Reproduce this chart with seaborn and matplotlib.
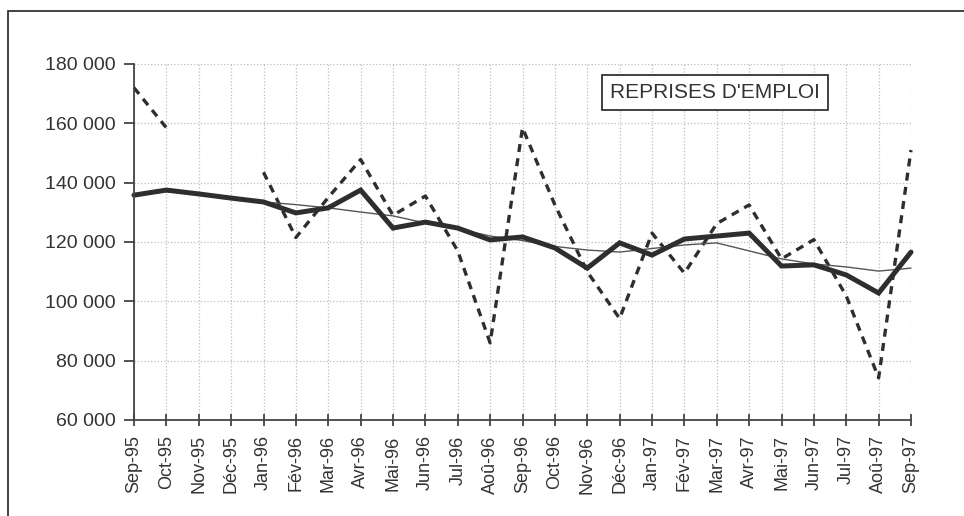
import numpy as np
import pandas as pd
import matplotlib.pyplot as plt
import seaborn as sns
from matplotlib.patches import Rectangle

# Mois (axe des x)
mois = ['Sep-95', 'Oct-95', 'Nov-95', 'Déc-95', 'Jan-96', 'Fév-96', 'Mar-96', 'Avr-96',
        'Mai-96', 'Jun-96', 'Jul-96', 'Aoû-96', 'Sep-96', 'Oct-96', 'Nov-96', 'Déc-96',
        'Jan-97', 'Fév-97', 'Mar-97', 'Avr-97', 'Mai-97', 'Jun-97', 'Jul-97', 'Aoû-97',
        'Sep-97']

# Données brutes (pointillés), manquantes en nov. et déc. 95
brut = [172000, 158500, np.nan, np.nan, 143500, 121500, 135000, 147800,
        129000, 135500, 117000, 86000, 158500, 132500, 110000, 94200,
        123000, 109500, 126200, 132500, 114300, 120800, 101800, 74200,
        151000]

# Données CVS (trait épais)
cvs = [135800, 137500, 136200, 134800, 133500, 129800, 131500, 137500,
       124700, 126700, 124700, 120700, 121700, 118000, 111200, 119700,
       115600, 121000, 122000, 123000, 111900, 112300, 108900, 102800,
       116600]

# Tendance (trait fin)
tendance = [135800, 137000, 136000, 134800, 133500, 132600, 131500, 130100,
            128800, 126400, 124500, 122000, 120500, 118500, 117300, 116600,
            117800, 119000, 119700, 117000, 114300, 112600, 111600, 110200,
            111200]

yticks = [60000, 80000, 100000, 120000, 140000, 160000, 180000]

df = pd.DataFrame({'x': np.arange(len(mois)), 'mois': mois,
                   'brut': brut, 'cvs': cvs, 'tendance': tendance})

sns.set_theme(style="white")
plt.rcParams['font.family'] = ['Liberation Sans', 'DejaVu Sans']

fig = plt.figure(figsize=(9.64, 5.16), dpi=100)
ax = fig.add_axes([134 / 964, 96 / 516, 777 / 964, 356 / 516])

encre = '#2e2e2e'

# segments continus de la série brute
seg = df['brut'].isna().cumsum()
for _, part in df[df['brut'].notna()].groupby(seg[df['brut'].notna()]):
    sns.lineplot(data=part, x='x', y='brut', ax=ax, color=encre, linewidth=2.4,
                 linestyle=(0, (2.4, 1.9)), sort=False, clip_on=False)

sns.lineplot(data=df, x='x', y='tendance', ax=ax, color='#555555', linewidth=1.0,
             sort=False, clip_on=False)
sns.lineplot(data=df, x='x', y='cvs', ax=ax, color=encre, linewidth=3.6,
             sort=False, clip_on=False, solid_joinstyle='miter')

ax.set_xlim(0, len(mois) - 1)
ax.set_ylim(60000, 180000)
ax.set_xticks(df['x'])
ax.set_xticklabels(mois, rotation=90, fontsize=13, color='#333333')
ax.set_yticks(yticks)
ax.set_yticklabels([f"{v:,}".replace(",", " ") for v in yticks], fontsize=14, color='#333333')
ax.set_xlabel('')
ax.set_ylabel('')

ax.grid(True, linestyle=':', color='#bdbdbd', linewidth=0.9)
for s in ['top', 'right']:
    ax.spines[s].set_visible(False)
for s in ['left', 'bottom']:
    ax.spines[s].set_color('#444444')
    ax.spines[s].set_linewidth(1.3)
ax.tick_params(axis='y', direction='out', length=7, width=1.3, color='#444444', left=True, pad=6)
ax.tick_params(axis='x', direction='inout', length=8, width=1.3, color='#444444', bottom=True, pad=7)

ax.text(0.748, 0.92, "REPRISES D'EMPLOI", transform=ax.transAxes, ha='center', va='center',
        fontsize=15, color='#333333',
        bbox=dict(boxstyle='square,pad=0.4', facecolor='white', edgecolor='#333333', linewidth=1.3))

# cadre de la page scannée
fig.add_artist(Rectangle((8 / 964, -0.05), 1.2, 1 - 11 / 516 + 0.05, transform=fig.transFigure,
                         fill=False, edgecolor='#333333', linewidth=1.3))

fig.savefig('out.png', dpi=100)
